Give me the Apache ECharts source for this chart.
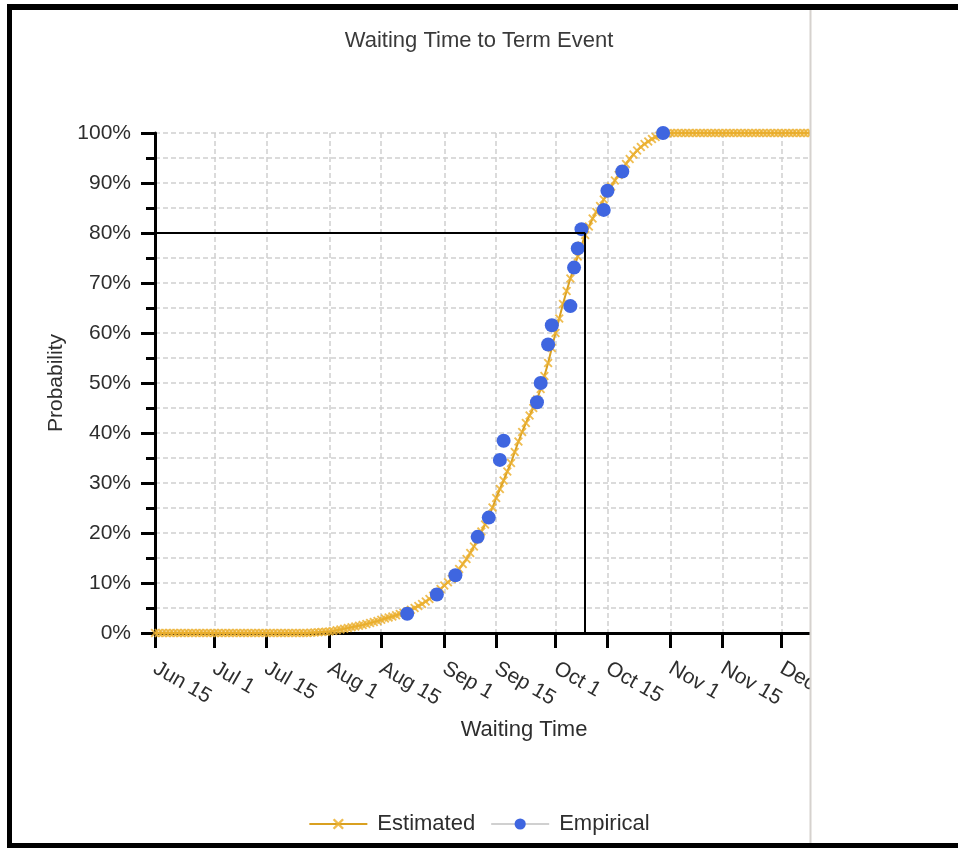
<!DOCTYPE html>
<html>
<head>
<meta charset="utf-8">
<title>Waiting Time to Term Event</title>
<script src="https://cdn.jsdelivr.net/npm/echarts@6/dist/echarts.min.js"></script>
<style>
html, body { margin: 0; padding: 0; background: #fff; }
#chart { width: 958px; height: 848px; }
</style>
</head>
<body>
<div id="chart"></div>
<script>
// x axis is counted in days from Jun 15
var tickDays = [0, 16, 30, 47, 61, 78, 92, 108, 122, 139, 153, 169, 183];
var tickLabels = ['Jun 15', 'Jul 1', 'Jul 15', 'Aug 1', 'Aug 15', 'Sep 1', 'Sep 15',
    'Oct 1', 'Oct 15', 'Nov 1', 'Nov 15', 'Dec 1', 'Dec 15'];

// Estimated curve, one value per day starting at Jun 15 (%)
var estimated = [
    0, 0, 0, 0, 0, 0, 0, 0, 0, 0, 0, 0, 0, 0, 0, 0, 0, 0, 0, 0, 0,
    0, 0, 0, 0, 0, 0, 0, 0, 0, 0, 0, 0, 0, 0, 0, 0, 0, 0, 0, 0, 0,
    0.05, 0.1, 0.15, 0.2, 0.25, 0.3, 0.4, 0.55, 0.7, 0.85,
    1.0, 1.15, 1.3, 1.45, 1.6, 1.8, 2.0, 2.2, 2.4, 2.65,
    2.9, 3.1, 3.3, 3.55, 3.8, 4.05, 4.3, 4.65, 5.0, 5.4,
    5.8, 6.3, 6.8, 7.45, 8.1, 8.8, 9.5, 10.15, 10.8, 11.8,
    12.8, 13.8, 14.8, 16.0, 17.3, 18.8, 20.3, 21.7, 23.2, 25.1,
    27.0, 28.8, 30.5, 32.3, 34.0, 36.2, 38.3, 40.2, 42.0, 43.5,
    45.0, 46.7, 48.8, 51.4, 54.0, 57.0, 60.0, 62.9, 65.8, 68.4,
    70.9, 73.1, 75.3, 77.5, 79.6, 81.3, 82.9, 84.2, 85.4, 86.7,
    88.0, 89.3, 90.5, 91.6, 92.7, 93.8, 94.8, 95.7, 96.5, 97.2,
    97.8, 98.3, 98.8, 99.2, 99.5, 99.75, 99.9, 100,
    100, 100, 100, 100, 100, 100, 100, 100, 100, 100,
    100, 100, 100, 100, 100, 100, 100, 100, 100, 100,
    100, 100, 100, 100, 100, 100, 100, 100, 100, 100,
    100, 100, 100, 100, 100, 100, 100, 100, 100, 100, 100
];

// Empirical points
var empDays = [68, 76, 81, 87, 90, 93, 94, 103, 104, 106, 107, 112, 113, 114, 115, 121, 122, 126, 137];
var empValues = [3.85, 7.69, 11.54, 19.23, 23.08, 34.62, 38.46, 46.15, 50, 57.69, 61.54,
    65.38, 73.08, 76.92, 80.77, 84.62, 88.46, 92.31, 100];

// 80% reference
var refDay = 116, refPct = 80;

var estData = [];
for (var i = 0; i < estimated.length; i++) estData.push([i, estimated[i]]);
var empData = [];
for (var j = 0; j < empDays.length; j++) empData.push([empDays[j], empValues[j]]);

var fontFam = '"Liberation Sans", Arial, sans-serif';
var txtColor = '#2e2e2e';
var crossPath = 'path://M0,1.5L1.5,0L5,3.5L8.5,0L10,1.5L6.5,5L10,8.5L8.5,10L5,6.5L1.5,10L0,8.5L3.5,5Z';
var gridLine = { show: true, lineStyle: { color: '#cfcfcf', width: 1.5, type: [5, 3] } };

var chart = echarts.init(document.getElementById('chart'));
chart.setOption({
    animation: false,
    textStyle: { fontFamily: fontFam },
    title: {
        text: 'Waiting Time to Term Event',
        left: 'center',
        top: 25,
        textStyle: { fontSize: 22, fontWeight: 'normal', color: '#3a3a3a', fontFamily: fontFam }
    },
    grid: { left: 155, right: 65, top: 133, bottom: 215, containLabel: false, outerBoundsMode: 'none' },
    legend: {
        left: 'center',
        top: 808,
        itemWidth: 58,
        itemHeight: 14,
        itemGap: 15,
        textStyle: { fontSize: 22, color: txtColor, padding: [0, 0, 0, 5], fontFamily: fontFam },
        data: [
            { name: 'Estimated' },
            { name: 'Empirical', lineStyle: { color: '#d0d0d0', width: 2, opacity: 1 } }
        ]
    },
    xAxis: {
        type: 'value',
        min: 0,
        max: 199,
        name: 'Waiting Time',
        nameLocation: 'middle',
        nameGap: 86,
        nameTextStyle: { fontSize: 22, color: txtColor, fontFamily: fontFam },
        axisLine: { show: true, onZero: false, lineStyle: { color: '#000', width: 3 } },
        axisTick: { show: true, length: 15, customValues: tickDays, lineStyle: { color: '#000', width: 3 } },
        axisLabel: {
            customValues: tickDays,
            rotate: -30,
            margin: 34,
            fontSize: 21,
            color: txtColor,
            fontFamily: fontFam,
            formatter: function (v) { return tickLabels[tickDays.indexOf(v)]; }
        },
        splitLine: gridLine
    },
    yAxis: {
        type: 'value',
        min: 0,
        max: 100,
        interval: 10,
        name: 'Probability',
        nameLocation: 'middle',
        nameGap: 76,
        nameTextStyle: { fontSize: 21, color: txtColor, fontFamily: fontFam },
        axisLine: { show: true, lineStyle: { color: '#000', width: 3 } },
        axisTick: { show: true, length: 14, lineStyle: { color: '#000', width: 3 } },
        minorTick: { show: true, splitNumber: 2, length: 9, lineStyle: { color: '#000', width: 3 } },
        axisLabel: { formatter: '{value}%', margin: 24, fontSize: 21, color: txtColor, fontFamily: fontFam },
        splitLine: gridLine,
        minorSplitLine: gridLine
    },
    series: [
        {
            name: 'Estimated',
            type: 'line',
            data: estData,
            symbol: crossPath,
            symbolSize: 9,
            showAllSymbol: true,
            lineStyle: { color: '#d9a020', width: 2 },
            itemStyle: { color: 'rgba(236,178,50,0.85)' },
            z: 3,
            markLine: {
                silent: true,
                symbol: 'none',
                label: { show: false },
                lineStyle: { color: '#000', width: 2, type: 'solid' },
                data: [
                    [{ coord: [0, refPct] }, { coord: [refDay, refPct] }],
                    [{ coord: [refDay, refPct] }, { coord: [refDay, 0] }]
                ]
            }
        },
        {
            name: 'Empirical',
            type: 'line',
            data: empData,
            symbol: 'circle',
            symbolSize: 14,
            showAllSymbol: true,
            lineStyle: { width: 0, opacity: 0 },
            itemStyle: { color: '#3f66e0' },
            z: 4
        }
    ],
    graphic: [
        // cropped right part of the screenshot
        { type: 'rect', z: 100, shape: { x: 811, y: 10, width: 147, height: 833 }, style: { fill: '#fff' } },
        { type: 'line', z: 101, shape: { x1: 810.5, y1: 10, x2: 810.5, y2: 843 }, style: { stroke: '#d6d2ce', lineWidth: 2 } },
        // black frame
        { type: 'rect', z: 102, shape: { x: 7, y: 4, width: 951, height: 6 }, style: { fill: '#000' } },
        { type: 'rect', z: 102, shape: { x: 7, y: 4, width: 5, height: 844 }, style: { fill: '#000' } },
        { type: 'rect', z: 102, shape: { x: 7, y: 843, width: 951, height: 5 }, style: { fill: '#000' } }
    ]
});
</script>
</body>
</html>
